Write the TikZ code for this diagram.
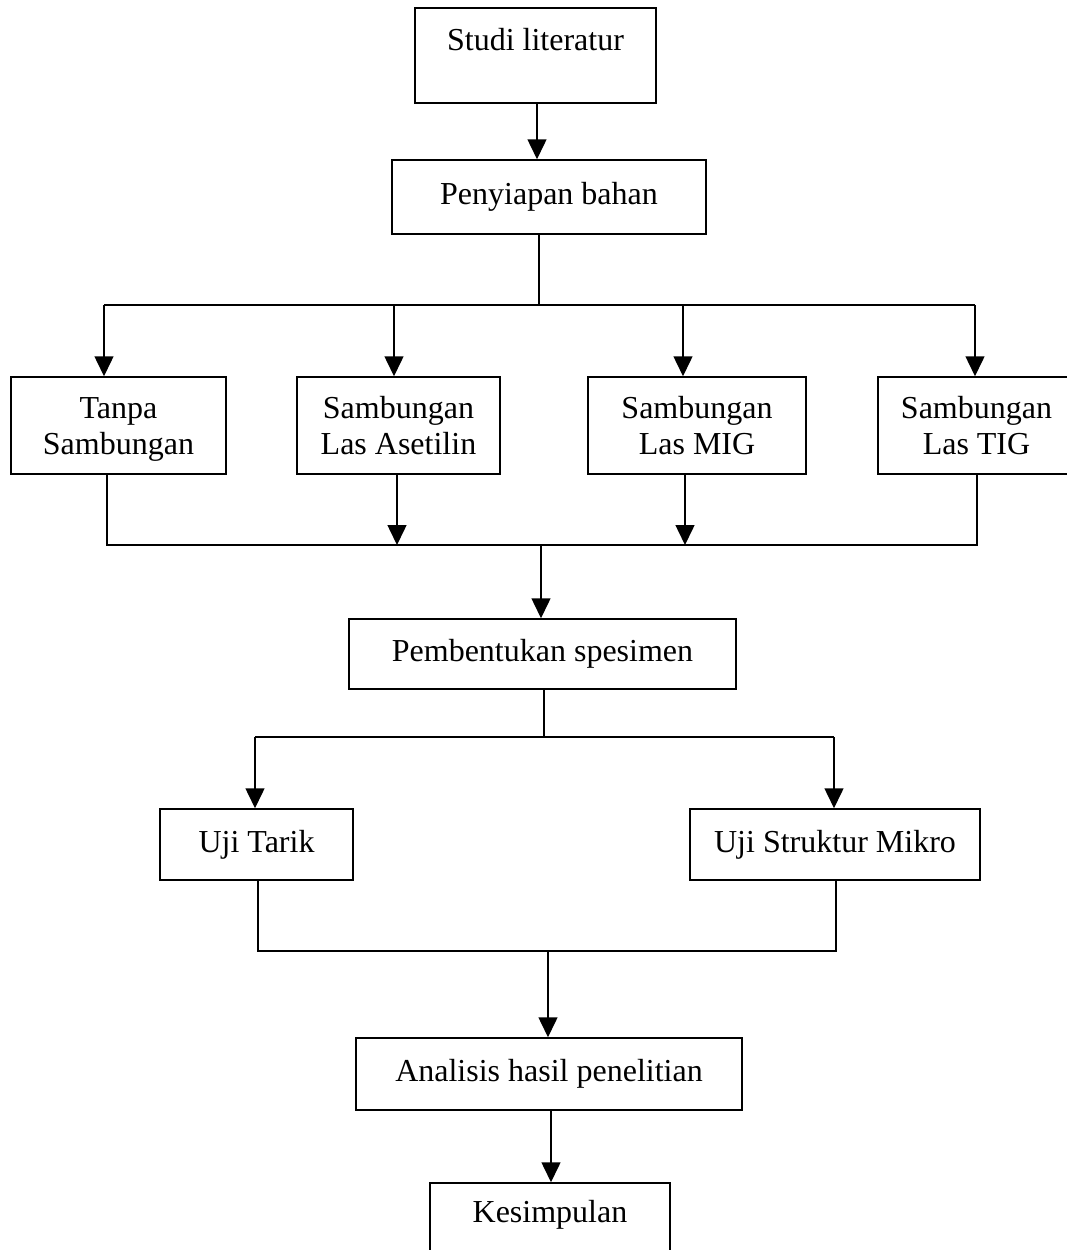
\documentclass[tikz,border=0pt]{standalone}
\usepackage{fontspec}
\setmainfont{Liberation Serif}
\usetikzlibrary{arrows.meta}
\newcommand\mytopstrut{\rule{0pt}{33pt}}
\begin{document}
\begin{tikzpicture}[x=1pt,y=-1pt,
  box/.style={draw,line width=1.5pt,inner sep=0pt,align=center,font=\fontsize{32}{36}\selectfont},
  lbl/.style={inner sep=0pt,font=\fontsize{32}{36}\selectfont},
  ln/.style={line width=1.5pt},
  arr/.style={line width=1.5pt,-{Triangle[length=20pt,width=19pt]}}]
\useasboundingbox[fill=white] (0,0) rectangle (1067,1250);

% boxes
\node[box,minimum width=241pt,minimum height=95pt] (studi) at (535.5,55.5) {};
\node[lbl] (studit) at (535.5,40) {Studi literatur};
\node[box,minimum width=314pt,minimum height=74pt] (penyiapan) at (549,197) {Penyiapan bahan};
\node[box,minimum width=215pt,minimum height=97pt] (tanpa) at (118.5,425.5) {\mytopstrut Tanpa\\Sambungan\strut};
\node[box,minimum width=203pt,minimum height=97pt] (asetilin) at (398.5,425.5) {\mytopstrut Sambungan\\Las Asetilin\strut};
\node[box,minimum width=218pt,minimum height=97pt] (mig) at (697,425.5) {\mytopstrut Sambungan\\Las MIG\strut};
\node[box,minimum width=197pt,minimum height=97pt] (tig) at (976.5,425.5) {\mytopstrut Sambungan\\Las TIG\strut};
\node[box,minimum width=387pt,minimum height=70pt] (pembentukan) at (542.5,654) {Pembentukan spesimen};
\node[box,minimum width=193pt,minimum height=71pt] (tarik) at (256.5,844.5) {Uji Tarik};
\node[box,minimum width=290pt,minimum height=71pt] (mikro) at (835,844.5) {Uji Struktur Mikro};
\node[box,minimum width=386pt,minimum height=72pt] (analisis) at (549,1074) {Analisis hasil penelitian};
\node[box,minimum width=240pt,minimum height=77pt] (kesimpulan) at (550,1221.5) {};
\node[lbl] (kesimpulant) at (550,1215) {Kesimpulan};

% junction coordinates
\coordinate (s1) at (537,103);
\coordinate (b1) at (539,305);
\coordinate (b1a) at (104,305);
\coordinate (b1b) at (394,305);
\coordinate (b1c) at (683,305);
\coordinate (b1d) at (975,305);
\coordinate (b2a) at (107,545);
\coordinate (b2b) at (397,545);
\coordinate (b2c) at (685,545);
\coordinate (b2d) at (977,545);
\coordinate (b2) at (541,545);
\coordinate (b3) at (544,737);
\coordinate (b3a) at (255,737);
\coordinate (b3b) at (834,737);
\coordinate (b4a) at (258,951);
\coordinate (b4b) at (836,951);
\coordinate (b4) at (548,951);
\coordinate (s5) at (551,1110);

% connectors
\draw[arr] (studi.south -| s1) -- (penyiapan.north -| s1);
\draw[ln] (penyiapan.south -| b1) -- (b1);
\draw[ln] (b1a) -- (b1d);
\draw[arr] (b1a) -- (tanpa.north -| b1a);
\draw[arr] (b1b) -- (asetilin.north -| b1b);
\draw[arr] (b1c) -- (mig.north -| b1c);
\draw[arr] (b1d) -- (tig.north -| b1d);

\draw[ln] (tanpa.south -| b2a) -- (b2a) -- (b2d) -- (tig.south -| b2d);
\draw[arr] (asetilin.south -| b2b) -- (b2b);
\draw[arr] (mig.south -| b2c) -- (b2c);
\draw[arr] (b2) -- (pembentukan.north -| b2);

\draw[ln] (pembentukan.south -| b3) -- (b3);
\draw[ln] (b3a) -- (b3b);
\draw[arr] (b3a) -- (tarik.north -| b3a);
\draw[arr] (b3b) -- (mikro.north -| b3b);

\draw[ln] (tarik.south -| b4a) -- (b4a) -- (b4b) -- (mikro.south -| b4b);
\draw[arr] (b4) -- (analisis.north -| b4);
\draw[arr] (analisis.south -| s5) -- (kesimpulan.north -| s5);
\end{tikzpicture}
\end{document}
